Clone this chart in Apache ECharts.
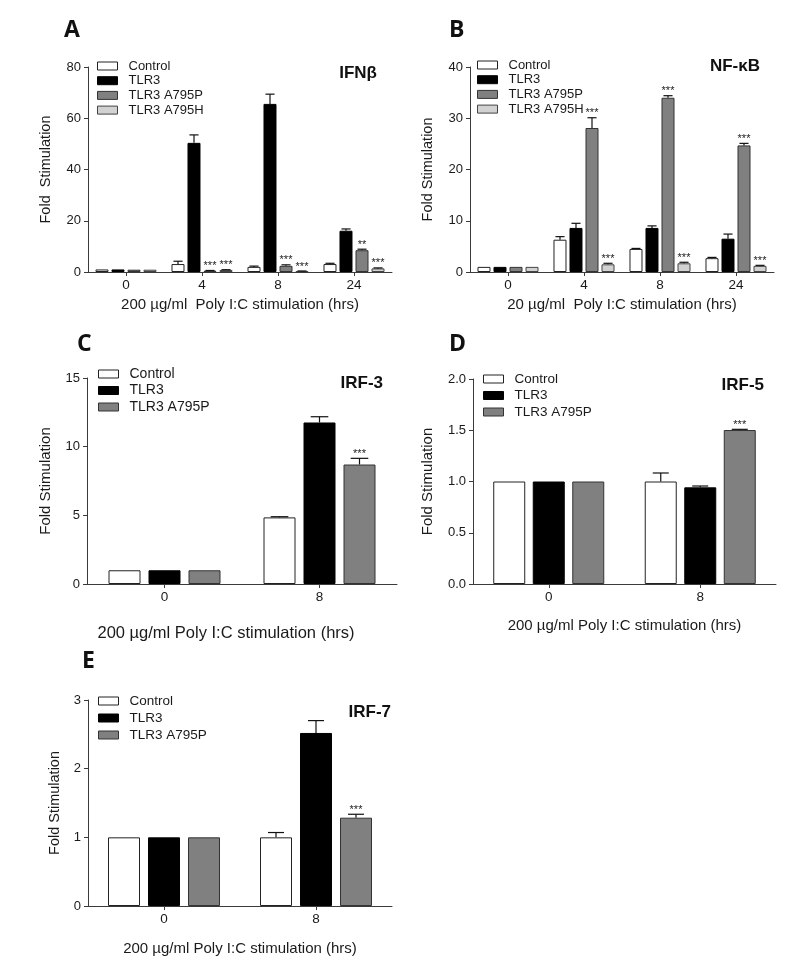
<!DOCTYPE html>
<html>
<head>
<meta charset="utf-8">
<script src="https://cdn.jsdelivr.net/npm/echarts@6/dist/echarts.min.js"></script>
<style>
html,body{margin:0;padding:0;background:#fff;}
#chart{width:800px;height:979px;}
</style>
</head>
<body>
<div id="chart"></div>
<script>
// ---------- DATA ----------
const groupNames = ['Control', 'TLR3', 'TLR3 A795P', 'TLR3 A795H'];

// Panel A: IFNβ, 200 µg/ml
const catsA = ['0', '4', '8', '24'];
const ifnControl = [1, 3.1, 2.0, 3.1];
const ifnControlErr = [0, 1.1, 0.3, 0.3];
const ifnTlr3 = [1, 50.4, 65.6, 16.1];
const ifnTlr3Err = [0, 3.1, 3.8, 0.7];
const ifnA795P = [0.9, 0.5, 2.4, 8.5];
const ifnA795PErr = [0, 0.1, 0.4, 0.4];
const ifnA795H = [0.9, 0.8, 0.3, 1.4];
const ifnA795HErr = [0, 0.1, 0.1, 0.2];
const ifnStarsP = ['', '***', '***', '**'];
const ifnStarsH = ['', '***', '***', '***'];

// Panel B: NF-κB, 20 µg/ml
const catsB = ['0', '4', '8', '24'];
const nfkbControl = [1, 6.3, 4.5, 2.7];
const nfkbControlErr = [0, 0.6, 0.1, 0.15];
const nfkbTlr3 = [1, 8.6, 8.6, 6.5];
const nfkbTlr3Err = [0, 0.9, 0.4, 0.9];
const nfkbA795P = [1, 28.1, 34.0, 24.7];
const nfkbA795PErr = [0, 2.0, 0.4, 0.4];
const nfkbA795H = [1, 1.5, 1.7, 1.2];
const nfkbA795HErr = [0, 0.2, 0.2, 0.1];
const nfkbStarsP = ['', '***', '***', '***'];
const nfkbStarsH = ['', '***', '***', '***'];

// Panel C: IRF-3
const catsC = ['0', '8'];
const irf3Control = [1, 4.85];
const irf3ControlErr = [0, 0.05];
const irf3Tlr3 = [1, 11.76];
const irf3Tlr3Err = [0, 0.42];
const irf3A795P = [1, 8.7];
const irf3A795PErr = [0, 0.45];
const irf3StarsP = ['', '***'];

// Panel D: IRF-5
const catsD = ['0', '8'];
const irf5Control = [1, 1.0];
const irf5ControlErr = [0, 0.083];
const irf5Tlr3 = [1, 0.943];
const irf5Tlr3Err = [0, 0.013];
const irf5A795P = [1, 1.502];
const irf5A795PErr = [0, 0.007];
const irf5StarsP = ['', '***'];

// Panel E: IRF-7
const catsE = ['0', '8'];
const irf7Control = [1, 1.0];
const irf7ControlErr = [0, 0.07];
const irf7Tlr3 = [1, 2.52];
const irf7Tlr3Err = [0, 0.18];
const irf7A795P = [1, 1.286];
const irf7A795PErr = [0, 0.05];
const irf7StarsP = ['', '***'];

const noStars = ['', '', '', ''];

// ---------- STYLE ----------
const FONT = "'Liberation Sans', Arial, sans-serif";
const styles = {
  'Control':    { color: '#ffffff', borderColor: '#222', borderWidth: 1 },
  'TLR3':       { color: '#000000', borderColor: '#000', borderWidth: 1 },
  'TLR3 A795P': { color: '#808080', borderColor: '#333', borderWidth: 1 },
  'TLR3 A795H': { color: '#d2d2d2', borderColor: '#444', borderWidth: 1 }
};

const panels = [
  { cats: catsA, max: 80, interval: 20, bw: 13, gap: 3, cap: 0.7,
    grid: { left: 88, top: 67, width: 304, height: 205 },
    xName: '200 \u00b5g/ml  Poly I:C stimulation (hrs)', xNameGap: 25, xNameSize: 15, xNamePad: [0,0,0,0],
    yName: 'Fold  Stimulation', yNameGap: 35, yNameSize: 14.5,
    legend: { left: 97, top: 59, gap: 0.7, size: 13, lh: 14 },
    groups: [
      { name: 'Control', v: ifnControl, e: ifnControlErr, s: noStars },
      { name: 'TLR3', v: ifnTlr3, e: ifnTlr3Err, s: noStars },
      { name: 'TLR3 A795P', v: ifnA795P, e: ifnA795PErr, s: ifnStarsP },
      { name: 'TLR3 A795H', v: ifnA795H, e: ifnA795HErr, s: ifnStarsH }
    ] },
  { cats: catsB, max: 40, interval: 10, bw: 13, gap: 3, cap: 0.7,
    grid: { left: 470, top: 67, width: 304, height: 205 },
    xName: '20 \u00b5g/ml  Poly I:C stimulation (hrs)', xNameGap: 25, xNameSize: 15, xNamePad: [0,0,0,0],
    yName: 'Fold Stimulation', yNameGap: 35, yNameSize: 14.5,
    legend: { left: 477, top: 58, gap: 0.7, size: 13, lh: 14 },
    groups: [
      { name: 'Control', v: nfkbControl, e: nfkbControlErr, s: noStars },
      { name: 'TLR3', v: nfkbTlr3, e: nfkbTlr3Err, s: noStars },
      { name: 'TLR3 A795P', v: nfkbA795P, e: nfkbA795PErr, s: nfkbStarsP },
      { name: 'TLR3 A795H', v: nfkbA795H, e: nfkbA795HErr, s: nfkbStarsH }
    ] },
  { cats: catsC, max: 15, interval: 5, bw: 32, gap: 8, cap: 0.55,
    grid: { left: 87, top: 378, width: 310, height: 206 },
    xName: '200 \u00b5g/ml Poly I:C stimulation (hrs)', xNameGap: 41, xNameSize: 16.5, xNamePad: [0,32,0,0],
    yName: 'Fold Stimulation', yNameGap: 34, yNameSize: 15,
    legend: { left: 98, top: 366.5, gap: 1.5, size: 14, lh: 15 },
    groups: [
      { name: 'Control', v: irf3Control, e: irf3ControlErr, s: noStars },
      { name: 'TLR3', v: irf3Tlr3, e: irf3Tlr3Err, s: noStars },
      { name: 'TLR3 A795P', v: irf3A795P, e: irf3A795PErr, s: irf3StarsP }
    ] },
  { cats: catsD, max: 2, interval: 0.5, bw: 32, gap: 7.5, cap: 0.5, dec: 1,
    grid: { left: 473, top: 379, width: 303, height: 205 },
    xName: '200 \u00b5g/ml Poly I:C stimulation (hrs)', xNameGap: 34, xNameSize: 15, xNamePad: [0,0,0,0],
    yName: 'Fold Stimulation', yNameGap: 38, yNameSize: 15,
    legend: { left: 483, top: 371.5, gap: 1.5, size: 13.5, lh: 15 },
    groups: [
      { name: 'Control', v: irf5Control, e: irf5ControlErr, s: noStars },
      { name: 'TLR3', v: irf5Tlr3, e: irf5Tlr3Err, s: noStars },
      { name: 'TLR3 A795P', v: irf5A795P, e: irf5A795PErr, s: irf5StarsP }
    ] },
  { cats: catsE, max: 3, interval: 1, bw: 32, gap: 8, cap: 0.5,
    grid: { left: 88, top: 700, width: 304, height: 206 },
    xName: '200 \u00b5g/ml Poly I:C stimulation (hrs)', xNameGap: 35, xNameSize: 15, xNamePad: [0,0,0,0],
    yName: 'Fold Stimulation', yNameGap: 26, yNameSize: 14.5,
    legend: { left: 98, top: 693.5, gap: 2, size: 13.5, lh: 15 },
    groups: [
      { name: 'Control', v: irf7Control, e: irf7ControlErr, s: noStars },
      { name: 'TLR3', v: irf7Tlr3, e: irf7Tlr3Err, s: noStars },
      { name: 'TLR3 A795P', v: irf7A795P, e: irf7A795PErr, s: irf7StarsP }
    ] }
];

const grids = [], xAxes = [], yAxes = [], series = [], legends = [];
const axisColor = '#3a3a3a';

panels.forEach((p, pi) => {
  grids.push(Object.assign({ containLabel: false }, p.grid));
  xAxes.push({
    type: 'category', gridIndex: pi, data: p.cats,
    axisLine: { show: true, lineStyle: { color: axisColor, width: 1 } },
    axisTick: { show: true, alignWithLabel: true, length: 4, lineStyle: { color: axisColor } },
    axisLabel: { fontFamily: FONT, fontSize: 13.5, color: '#1a1a1a', margin: 6 },
    name: p.xName, nameLocation: 'middle', nameGap: p.xNameGap,
    nameTextStyle: { fontFamily: FONT, fontSize: p.xNameSize, color: '#1a1a1a', padding: p.xNamePad }
  });
  yAxes.push({
    type: 'value', gridIndex: pi, min: 0, max: p.max, interval: p.interval,
    axisLine: { show: true, lineStyle: { color: axisColor, width: 1 } },
    axisTick: { show: true, length: 4, lineStyle: { color: axisColor } },
    splitLine: { show: false },
    axisLabel: { fontFamily: FONT, fontSize: 13, color: '#1a1a1a', margin: 7,
      formatter: p.dec ? (v => v.toFixed(p.dec)) : (v => String(v)) },
    name: p.yName, nameLocation: 'middle', nameGap: p.yNameGap, nameRotate: 90,
    nameTextStyle: { fontFamily: FONT, fontSize: p.yNameSize, color: '#1a1a1a' }
  });
  const n = p.groups.length;
  const gapPct = (p.gap / p.bw * 100).toFixed(2) + '%';
  p.groups.forEach((g, k) => {
    series.push({
      type: 'bar', name: g.name, xAxisIndex: pi, yAxisIndex: pi,
      data: g.v, barWidth: p.bw, barGap: gapPct,
      itemStyle: styles[g.name], emphasis: { disabled: true }, z: 2
    });
    const stars = g.s;
    series.push({
      type: 'custom', name: g.name + ' err', xAxisIndex: pi, yAxisIndex: pi, z: 5,
      data: g.v.map((v, i) => [i, v, g.e[i]]),
      renderItem: function (params, api) {
        const cat = api.value(0), v = api.value(1), e = api.value(2);
        const base = api.coord([cat, v]);
        const top = api.coord([cat, v + e]);
        const total = n * p.bw + (n - 1) * p.gap;
        const x = base[0] - total / 2 + k * (p.bw + p.gap) + p.bw / 2;
        const children = [];
        const cap = p.bw * p.cap;
        if (e > 0) {
          children.push({ type: 'line', shape: { x1: x, y1: base[1], x2: x, y2: top[1] },
            style: { stroke: '#111', lineWidth: 1.2 } });
          children.push({ type: 'line', shape: { x1: x - cap / 2, y1: top[1], x2: x + cap / 2, y2: top[1] },
            style: { stroke: '#111', lineWidth: 1.2 } });
        }
        const st = stars[params.dataIndex];
        if (st) {
          children.push({ type: 'text', style: { text: st, x: x, y: top[1] + 1,
            textAlign: 'center', textVerticalAlign: 'bottom', font: "11px " + FONT, fill: '#222' } });
        }
        return { type: 'group', children: children };
      }
    });
  });
  legends.push({
    orient: 'vertical', left: p.legend.left, top: p.legend.top, itemGap: p.legend.gap, padding: 0,
    itemWidth: 20, itemHeight: 8, icon: 'rect', selectedMode: false,
    textStyle: { fontFamily: FONT, fontSize: p.legend.size, color: '#1a1a1a', lineHeight: p.legend.lh, padding: [0, 0, 0, 6] },
    data: p.groups.map(g => ({ name: g.name, icon: 'rect', itemStyle: styles[g.name] }))
  });
});

const graphics = [
  { l: 'A', x: 64, y: 30 }, { l: 'B', x: 449, y: 30 }, { l: 'C', x: 77, y: 344 },
  { l: 'D', x: 449, y: 344 }, { l: 'E', x: 82, y: 661 }
].map(o => ({ type: 'text', x: o.x, y: o.y, silent: true,
  style: { text: o.l, font: "bold 23px 'Open Sans', 'DejaVu Sans', sans-serif", fill: '#111', textVerticalAlign: 'middle' } }));

[
  { t: 'IFN\u03b2', x: 377, y: 73 }, { t: 'NF-\u03baB', x: 760, y: 66 },
  { t: 'IRF-3', x: 383, y: 383 }, { t: 'IRF-5', x: 764, y: 385 }, { t: 'IRF-7', x: 391, y: 712 }
].forEach(o => graphics.push({ type: 'text', x: o.x, y: o.y, silent: true,
  style: { text: o.t, font: "bold 17px " + FONT, fill: '#111', textAlign: 'right', textVerticalAlign: 'middle' } }));

const chart = echarts.init(document.getElementById('chart'), null, { renderer: 'canvas' });
chart.setOption({
  animation: false,
  backgroundColor: '#ffffff',
  grid: grids, xAxis: xAxes, yAxis: yAxes, series: series, legend: legends,
  graphic: graphics
});
</script>
</body>
</html>
